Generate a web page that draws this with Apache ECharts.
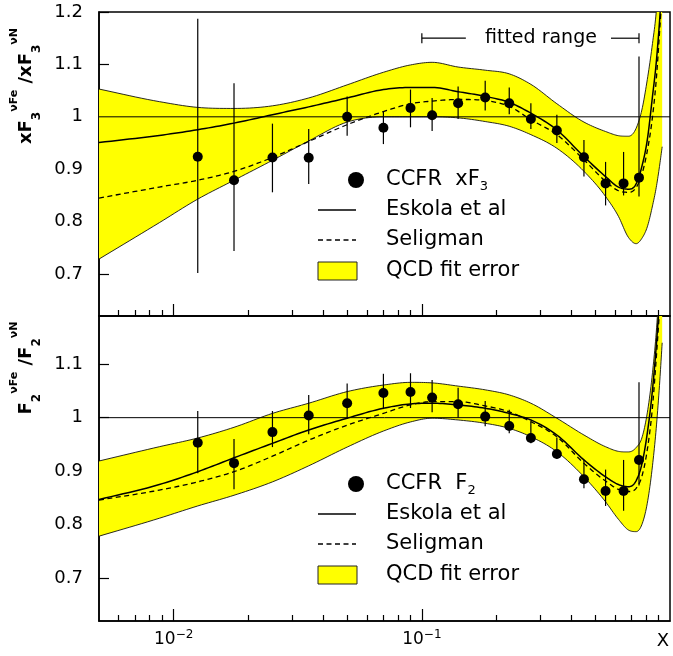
<!DOCTYPE html>
<html>
<head>
<meta charset="utf-8">
<script src="https://cdn.jsdelivr.net/npm/echarts@6/dist/echarts.min.js"></script>
<style>
  html, body { margin: 0; padding: 0; background: #fff; }
  #chart { width: 673px; height: 656px; }
</style>
</head>
<body>
<div id="chart"></div>
<script>
// ---- CCFR measurements (x bins) ----
const pointX = [0.0125, 0.0175, 0.025, 0.035, 0.05, 0.07, 0.09, 0.11, 0.14, 0.18, 0.225, 0.275, 0.35, 0.45, 0.55, 0.65, 0.75];

// xF3(nu Fe) / xF3(nu N)
const f3Ratio   = [0.924, 0.879, 0.9225, 0.922, 1.000, 0.979, 1.017, 1.003, 1.026, 1.037, 1.026, 0.996, 0.974, 0.923, 0.873, 0.873, 0.884];
const f3ErrLow  = [0.702, 0.744, 0.856, 0.872, 0.964, 0.948, 0.980, 0.973, 0.996, 1.012, 1.005, 0.977, 0.950, 0.886, 0.831, 0.850, 0.848];
const f3ErrHigh = [1.187, 1.064, 0.987, 0.977, 1.039, 1.010, 1.052, 1.036, 1.058, 1.069, 1.056, 1.026, 1.004, 0.956, 0.914, 0.933, 1.115];

// F2(nu Fe) / F2(nu N)
const f2Ratio   = [0.953, 0.915, 0.973, 1.004, 1.027, 1.046, 1.048, 1.0375, 1.025, 1.002, 0.9845, 0.962, 0.932, 0.885, 0.863, 0.863, 0.921];
const f2ErrLow  = [0.896, 0.866, 0.945, 0.969, 0.998, 1.016, 1.018, 1.010, 1.000, 0.984, 0.971, 0.952, 0.923, 0.868, 0.835, 0.826, 0.873];
const f2ErrHigh = [1.0125, 0.960, 1.0125, 1.0425, 1.064, 1.082, 1.083, 1.0706, 1.056, 1.031, 1.0146, 0.9925, 0.963, 0.921, 0.903, 0.921, 1.066];

// ---- model curves ----
const curveX = [0.005, 0.00875, 0.0125, 0.0175, 0.025, 0.035, 0.05, 0.07, 0.09, 0.11, 0.14, 0.18, 0.225, 0.275, 0.35, 0.45, 0.55, 0.62, 0.68, 0.73, 0.77, 0.81, 0.85, 0.88, 0.91, 0.93];

const f3BandHigh = [1.053, 1.029, 1.018, 1.016, 1.021, 1.036, 1.061, 1.085, 1.099, 1.104, 1.095, 1.089, 1.082, 1.062, 1.025, 0.990, 0.972, 0.964, 0.963, 0.978, 1.013, 1.071, 1.140, 1.200, 1.300, 1.380];
const f3BandLow  = [0.7286, 0.798, 0.843, 0.879, 0.917, 0.954, 0.990, 1.000, 1.000, 1.000, 0.998, 0.991, 0.982, 0.966, 0.940, 0.896, 0.848, 0.810, 0.770, 0.758, 0.768, 0.790, 0.830, 0.865, 0.910, 0.943];
const f3Eskola   = [0.951, 0.9645, 0.9754, 0.988, 1.004, 1.019, 1.036, 1.052, 1.056, 1.056, 1.048, 1.039, 1.0275, 1.007, 0.975, 0.924, 0.886, 0.866, 0.862, 0.872, 0.905, 0.956, 1.039, 1.103, 1.190, 1.260];
const f3Seligman = [0.845, 0.866, 0.879, 0.896, 0.9225, 0.953, 0.985, 1.010, 1.025, 1.030, 1.033, 1.031, 1.020, 0.9945, 0.966, 0.918, 0.877, 0.859, 0.856, 0.865, 0.890, 0.935, 1.000, 1.070, 1.170, 1.240];

const f2BandHigh = [0.919, 0.9457, 0.962, 0.982, 1.008, 1.027, 1.0487, 1.061, 1.066, 1.065, 1.059, 1.052, 1.0425, 1.027, 0.999, 0.9676, 0.9457, 0.937, 0.936, 0.944, 0.962, 1.009, 1.084, 1.159, 1.260, 1.330];
const f2BandLow  = [0.7785, 0.812, 0.835, 0.855, 0.880, 0.910, 0.945, 0.975, 0.992, 0.999, 0.9957, 0.9895, 0.980, 0.9644, 0.9363, 0.8895, 0.8427, 0.810, 0.790, 0.787, 0.800, 0.840, 0.910, 0.980, 1.070, 1.140];
const f2Eskola   = [0.847, 0.875, 0.899, 0.925, 0.952, 0.977, 0.999, 1.0176, 1.0257, 1.027, 1.0238, 1.0176, 1.008, 0.9957, 0.9676, 0.921, 0.8895, 0.875, 0.871, 0.882, 0.913, 0.971, 1.052, 1.133, 1.230, 1.300];
const f2Seligman = [0.846, 0.8646, 0.880, 0.899, 0.928, 0.958, 0.986, 1.008, 1.024, 1.030, 1.030, 1.022, 1.011, 0.9925, 0.9644, 0.9146, 0.8815, 0.866, 0.862, 0.868, 0.890, 0.940, 1.020, 1.110, 1.210, 1.280];

// fitted x range marker
const fittedRange = [0.1, 0.75];
const fittedRangeLevel = 1.15;

// ---- axis ticks ----
const xMajorTicks = [0.01, 0.1];
const xMajorExponents = ['\u22122', '\u22121'];
const xMinorTicks = [0.006, 0.007, 0.008, 0.009, 0.02, 0.03, 0.04, 0.05, 0.06, 0.07, 0.08, 0.09, 0.2, 0.3, 0.4, 0.5, 0.6, 0.7, 0.8, 0.9];
const yTicksF3 = [0.7, 0.8, 0.9, 1.0, 1.1, 1.2];
const yTicksF2 = [0.7, 0.8, 0.9, 1.0, 1.1];

const FONT = '"DejaVu Sans", "Liberation Sans", sans-serif';
const BLACK = '#000';
const YELLOW = '#ffff00';

// Smooth a pixel polyline (x increasing) with a cubic Hermite spline.
function smoothPixels(pts, steps) {
  const n = pts.length;
  const slope = (i) => {
    if (i === 0) return (pts[1][1] - pts[0][1]) / (pts[1][0] - pts[0][0]);
    if (i === n - 1) return (pts[n - 1][1] - pts[n - 2][1]) / (pts[n - 1][0] - pts[n - 2][0]);
    const a = (pts[i][1] - pts[i - 1][1]) / (pts[i][0] - pts[i - 1][0]);
    const b = (pts[i + 1][1] - pts[i][1]) / (pts[i + 1][0] - pts[i][0]);
    if (a * b <= 0) return 0;
    const h0 = pts[i][0] - pts[i - 1][0], h1 = pts[i + 1][0] - pts[i][0];
    return (h0 * b + h1 * a) / (h0 + h1);
  };
  const m = pts.map((p, i) => slope(i));
  const out = [pts[0]];
  for (let i = 0; i < n - 1; i++) {
    const [x0, y0] = pts[i], [x1, y1] = pts[i + 1];
    const h = x1 - x0;
    for (let s = 1; s <= steps; s++) {
      const t = s / steps, t2 = t * t, t3 = t2 * t;
      const y = (2 * t3 - 3 * t2 + 1) * y0 + (t3 - 2 * t2 + t) * h * m[i] + (-2 * t3 + 3 * t2) * y1 + (t3 - t2) * h * m[i + 1];
      out.push([x0 + h * t, y]);
    }
  }
  return out;
}

function xAxes(gridIndex, withLabels) {
  const base = {
    gridIndex, type: 'log', logBase: 10, min: 0.005, max: 1, position: 'bottom',
    splitLine: { show: false }, minorTick: { show: false }, minorSplitLine: { show: false }
  };
  return [
    Object.assign({}, base, {
      axisLine: { show: true, lineStyle: { color: BLACK, width: 1.5 } },
      axisTick: { show: true, inside: true, length: 12, customValues: xMajorTicks, lineStyle: { color: BLACK, width: 1.2 } },
      axisLabel: withLabels ? {
        show: true, customValues: xMajorTicks, margin: 8, color: BLACK,
        formatter: v => {
          const i = xMajorTicks.findIndex(t => Math.abs(t - v) < 1e-9);
          return '{b|10}{s|' + (i >= 0 ? xMajorExponents[i] : '') + '}';
        },
        rich: {
          b: { fontSize: 17, fontFamily: FONT, color: BLACK, lineHeight: 19, verticalAlign: 'bottom' },
          s: { fontSize: 12, fontFamily: FONT, color: BLACK, lineHeight: 12, verticalAlign: 'top' }
        }
      } : { show: false }
    }),
    Object.assign({}, base, {
      axisLine: { show: false },
      axisTick: { show: true, inside: true, length: 6, customValues: xMinorTicks, lineStyle: { color: BLACK, width: 1.2 } },
      axisLabel: { show: false }
    })
  ];
}

function yAxis(gridIndex, min, max, ticks) {
  return {
    gridIndex, type: 'value', min, max,
    splitLine: { show: false },
    axisLine: { show: true, lineStyle: { color: BLACK, width: 1.5 } },
    axisTick: { show: true, inside: true, length: 10, customValues: ticks, lineStyle: { color: BLACK, width: 1.2 } },
    axisLabel: {
      show: true, customValues: ticks, margin: 16, color: BLACK, fontSize: 18, fontFamily: FONT,
      formatter: v => String(Math.round(v * 10) / 10)
    }
  };
}

function bandSeries(xi, yi, hi, lo) {
  return {
    type: 'custom', xAxisIndex: xi, yAxisIndex: yi, clip: true, silent: true, z: 1,
    data: [[curveX[0], lo[0]]],
    renderItem: (params, api) => {
      const top = smoothPixels(curveX.map((x, i) => api.coord([x, hi[i]])), 10);
      const bot = smoothPixels(curveX.map((x, i) => api.coord([x, lo[i]])), 10);
      const poly = top.concat(bot.slice().reverse());
      return {
        type: 'group',
        children: [
          { type: 'polygon', shape: { points: poly }, style: { fill: YELLOW, stroke: null } },
          { type: 'polyline', shape: { points: top }, style: { fill: null, stroke: '#111', lineWidth: 0.9 } },
          { type: 'polyline', shape: { points: bot }, style: { fill: null, stroke: '#111', lineWidth: 0.9 } }
        ]
      };
    }
  };
}

function curveSeries(xi, yi, values, dashed) {
  return {
    type: 'custom', xAxisIndex: xi, yAxisIndex: yi, silent: true, z: 3, clip: true,
    data: [[curveX[0], values[0]]],
    renderItem: (params, api) => {
      const pts = smoothPixels(curveX.map((x, i) => api.coord([x, values[i]])), 10);
      return {
        type: 'polyline', shape: { points: pts },
        style: { fill: null, stroke: BLACK, lineWidth: dashed ? 1.3 : 1.5, lineDash: dashed ? [5, 3.5] : null }
      };
    }
  };
}

function unitySeries(xi, yi) {
  return {
    type: 'line', xAxisIndex: xi, yAxisIndex: yi, silent: true, z: 3,
    data: [[0.005, 1], [1, 1]], symbol: 'none',
    lineStyle: { color: BLACK, width: 1, type: 'solid' }
  };
}

function pointSeries(xi, yi, values) {
  return {
    type: 'scatter', xAxisIndex: xi, yAxisIndex: yi, silent: true, z: 6,
    data: pointX.map((x, i) => [x, values[i]]),
    symbol: 'circle', symbolSize: 10, itemStyle: { color: BLACK, opacity: 1 }
  };
}

function errorSeries(xi, yi, lo, hi) {
  return {
    type: 'custom', xAxisIndex: xi, yAxisIndex: yi, silent: true, z: 5, clip: true,
    data: pointX.map((x, i) => [x, lo[i], hi[i]]),
    renderItem: (params, api) => {
      const a = api.coord([api.value(0), api.value(1)]);
      const b = api.coord([api.value(0), api.value(2)]);
      return { type: 'line', shape: { x1: a[0], y1: a[1], x2: b[0], y2: b[1] }, style: { stroke: BLACK, lineWidth: 1.2 } };
    }
  };
}

const fittedRangeSeries = {
  type: 'custom', xAxisIndex: 0, yAxisIndex: 0, silent: true, z: 5,
  data: [[fittedRange[0], fittedRangeLevel, fittedRange[1]]],
  renderItem: (params, api) => {
    const p1 = api.coord([api.value(0), api.value(1)]);
    const p2 = api.coord([api.value(2), api.value(1)]);
    const st = { stroke: BLACK, lineWidth: 1.2 };
    return {
      type: 'group',
      children: [
        { type: 'line', shape: { x1: p1[0], y1: p1[1] - 5, x2: p1[0], y2: p1[1] + 5 }, style: st },
        { type: 'line', shape: { x1: p1[0], y1: p1[1], x2: p1[0] + 44, y2: p1[1] }, style: st },
        { type: 'line', shape: { x1: p2[0] - 28, y1: p2[1], x2: p2[0], y2: p2[1] }, style: st },
        { type: 'line', shape: { x1: p2[0], y1: p2[1] - 5, x2: p2[0], y2: p2[1] + 5 }, style: st }
      ]
    };
  }
};

function legendGraphics(top, dataLabel, sub) {
  const txt = (y, text, rich) => ({
    type: 'text', x: 386, y,
    style: Object.assign({ text, fill: BLACK, fontSize: 21, fontFamily: FONT, align: 'left', verticalAlign: 'middle' }, rich ? { rich } : {})
  });
  return [
    { type: 'circle', shape: { cx: 356, cy: top, r: 8 }, style: { fill: BLACK } },
    txt(top, '{t|' + dataLabel + '}{s|' + sub + '}', {
      t: { fontSize: 21, fontFamily: FONT, fill: BLACK, lineHeight: 26, verticalAlign: 'middle' },
      s: { fontSize: 13, fontFamily: FONT, fill: BLACK, lineHeight: 12, verticalAlign: 'bottom' }
    }),
    { type: 'line', shape: { x1: 318, y1: top + 30, x2: 356, y2: top + 30 }, style: { stroke: BLACK, lineWidth: 1.5 } },
    txt(top + 30, 'Eskola et al'),
    { type: 'line', shape: { x1: 318, y1: top + 60, x2: 356, y2: top + 60 }, style: { stroke: BLACK, lineWidth: 1.3, lineDash: [5, 3.5] } },
    txt(top + 60, 'Seligman'),
    { type: 'rect', shape: { x: 318, y: top + 82, width: 39, height: 18 }, style: { fill: YELLOW, stroke: '#222', lineWidth: 1 } },
    txt(top + 91, 'QCD fit error')
  ];
}

function yTitle(cx, cy, f, sub) {
  const rich = {
    m: { fontSize: 18, fontWeight: 'bold', fontFamily: FONT, fill: BLACK, lineHeight: 34, verticalAlign: 'middle' },
    sub: { fontSize: 12, fontWeight: 'bold', fontFamily: FONT, fill: BLACK, lineHeight: 26, verticalAlign: 'bottom' },
    sup: { fontSize: 11, fontWeight: 'bold', fontFamily: FONT, fill: BLACK, lineHeight: 8, verticalAlign: 'top' }
  };
  return {
    type: 'text', x: cx, y: cy, rotation: Math.PI / 2,
    style: {
      text: '{m|' + f + '}{sub|' + sub + '}{sup|\u03bdFe}{m| /' + f + '}{sub|' + sub + '}{sup|\u03bdN}',
      rich, align: 'center', verticalAlign: 'middle', fill: BLACK
    }
  };
}

const chart = echarts.init(document.getElementById('chart'), null, { renderer: 'canvas' });
chart.setOption({
  animation: false,
  backgroundColor: '#fff',
  grid: [
    { left: 99, right: 3, top: 12, height: 304, show: true, borderColor: BLACK, borderWidth: 1.5, outerBoundsMode: 'none', containLabel: false },
    { left: 99, right: 3, top: 316, height: 305, show: true, borderColor: BLACK, borderWidth: 1.5, outerBoundsMode: 'none', containLabel: false }
  ],
  xAxis: xAxes(0, false).concat(xAxes(1, true)),
  yAxis: [yAxis(0, 0.62, 1.2, yTicksF3), yAxis(1, 0.62, 1.19, yTicksF2)],
  series: [
    bandSeries(0, 0, f3BandHigh, f3BandLow),
    unitySeries(0, 0),
    curveSeries(0, 0, f3Eskola, false),
    curveSeries(0, 0, f3Seligman, true),
    errorSeries(0, 0, f3ErrLow, f3ErrHigh),
    pointSeries(0, 0, f3Ratio),
    fittedRangeSeries,

    bandSeries(2, 1, f2BandHigh, f2BandLow),
    unitySeries(2, 1),
    curveSeries(2, 1, f2Eskola, false),
    curveSeries(2, 1, f2Seligman, true),
    errorSeries(2, 1, f2ErrLow, f2ErrHigh),
    pointSeries(2, 1, f2Ratio)
  ],
  graphic: [
    { type: 'text', x: 485, y: 38, style: { text: 'fitted range', fill: BLACK, fontSize: 19, fontFamily: FONT, align: 'left', verticalAlign: 'middle' } },
    yTitle(26, 86, 'xF', '3'),
    yTitle(26, 368, 'F', '2'),
    { type: 'text', x: 663, y: 641, style: { text: 'X', fill: BLACK, fontSize: 18, fontFamily: FONT, align: 'center', verticalAlign: 'middle' } }
  ].concat(legendGraphics(180, 'CCFR  xF', '3'), legendGraphics(484, 'CCFR  F', '2'))
});
</script>
</body>
</html>
